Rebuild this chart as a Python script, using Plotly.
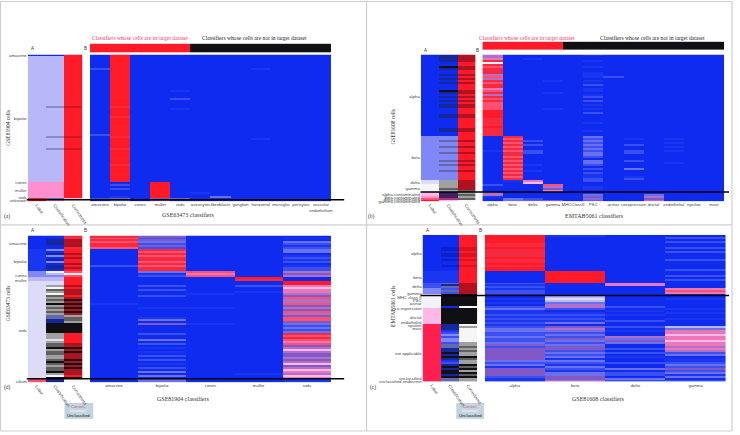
import plotly.graph_objects as go

W, H, N = 740, 435, 74

PALETTE = {
    "0": "#0f2bf0", "1": "#1a36f0", "2": "#3a50f0", "3": "#6a70ee", "4": "#8058c8",
    "5": "#b070c8", "6": "#e878b8", "7": "#ff5070", "8": "#f62a3e", "9": "#ff1a28",
    "w": "#f6f6f6", "k": "#101014", "g": "#a0a0a0", "h": "#606060", "s": "#b01222",
    "d": "#14289c", "a": "#0a20c8", "l": "#dcdcf8", "p": "#b8b8f8", "m": "#ff90d0",
    "n": "#8088f8", "r": "#ff2050", "q": "#ffb8e8", "v": "#f4f0fc", "x": "#6468ac",
    "y": "#402060", "u": "#b03080", "e": "#d8141f", "f": "#8a8acc", "t": "#5a4fa0",
}
KEYS = list(PALETTE)


def code(s, n=N):
    s = s.replace(" ", "")
    return [KEYS.index(c) for c in s.ljust(n, "0")[:n]]


# ---- Panel (a): GSE81904 cells / GSE63473 classifiers
a_cols = ["Label", "Classification", "Correctness"]
a_label = "0" + "p" * 63 + "m" * 8 + "99"
a_class = "0ppppppppp pppppppppp ppppppfppp pppppppppp pfpppppfpp pppppppppp ppppmmmmmm mmxm"
a_corr = "9999999999 9999999999 999999e999 9999999999 9e99999e99 9999999999 9999999999 99qw"
a_classifiers = ["amacrine", "bipolar", "cones", "muller", "rods", "astrocytes", "fibroblasts",
                 "ganglion", "horizontal", "microglia", "pericytes", "vascular<br>endothelium"]
a_top = "99999kkkkkkk"
a_amacrine = "0000000200 0000000000 0000000000 0000000000 2000000000 0000000000 0000000000 0020"
a_bipolar = "9999999999 9999999999 9999998999 9899999999 9899999899 9999989999 9999020200 0143"
a_cones = ""
a_muller = "0000000000 0000000000 0000000000 0000000000 0000000000 0000000000 0000999999 9944"
a_rods = "0000000000 0000000010 0020000100 0000000000 0000000000 0000000000 0000000000 0040"
a_astro = "0000000000 0000000000 0000000000 0000000000 0000000000 0000000000 0000000001"
a_fibro = "0000000000 0000000000 0000000000 0000000000 0000000000 0000000000 0000000000 0300"
a_ganglion = ""
a_horizontal = "0000000100 0000000000 0000000000 0000000000 0010000000"
a_micro = ""
a_peri = ""
a_vasc = ""
a_ticks = ["amacrine", "bipolar", "cones", "muller", "rods", "unknown"]
a_tickrows = [0, 32, 64, 68, 71.5, 73]

# ---- Panel (b): GSE81608 cells / EMTAB5061 classifiers
b_classifiers = ["alpha", "beta", "delta", "gamma", "MHCClassII", "PSC", "acinar", "coexpression",
                 "ductal", "endothelial", "epsilon", "mast"]
b_top = "9999kkkkkkkk"
b_label = "0" * 41 + "n" * 22 + "ll" + "wwww" + "qqm79"
b_class = "dddd00kd00 d0d0d000kd 0d0d0dd000 dd00000dd0 0 nnxnnxnnx nnnxnxnnxn nnn gg gghg yyyuq"
b_corr = "ssss99ss99 s9s9s999ss 9s9s9ss999 ss99999ss9 9 99s99s99s 999s9s99s9 999 ss sssh ghghw"
b_alpha = "5568w87888 5758788678 5878777799 9988889888 8000000010 0000000000 0000020005 5100"
b_beta = "0000000000 0000000000 0000000000 0000000000 0878787878 8787878787 8781000000 0033"
b_delta = "0010000000 0000000000 0000000000 0000000000 0002020022 0000010010 0006q00000 0024"
b_gamma = "0000000000 0001000001 0000000100 0000000000 0000000000 0000000000 0000075460 0004"
b_mhc = ""
b_psc = "1001001001 1101020110 1202010102 0000100010 0323232323 3203320202 1122001101 3434"
b_acinar = "0000000000 0200000000"
b_coexp = "0000000000 0000000000 0000000000 0000000000 0010020022 0002000300 0120000000"
b_ductal = "0000000000 0000000000 0000000000 0000000000 0000000000 0000000000 0000000000 3545"
b_endo = "0000000000 0000000000 0000000000 0000000000 0010101010 0000100000"
b_epsilon = ""
b_mast = ""
b_ticks = ["alpha", "beta", "delta", "gamma", "alpha.contaminated", "beta.contaminated",
           "delta.contaminated", "gamma.contaminated"]
b_tickrows = [20.5, 51.5, 64, 67, 70.2, 71.6, 72.8, 73.5]

# ---- Panel (d): GSE63473 cells / GSE81904 classifiers
d_classifiers = ["amacrine", "bipolar", "cones", "muller", "rods"]
d_label = "0" * 7 + "1" * 11 + "nnn" + "pp" + "l" * 49 + "77"
d_class = "00ddd00 n0dn0dn0dd0 wpn pp ll gwhgwhghgk ghghgxxddk kkkkggglgh hkghhgghkh ghhkgwk dd"
d_corr = "88ssss8 99s9s99s9s9 7w7 99 99 s9sss9sksk sksksghhgk kkkk99999s sksksssksk sksss9k ww"
d_amacrine = "8787887 0000000020 0 000000000 0000000100 0000000000 0000000000 0000000000 0000000000 0000000000 0043"
d_bipolar = ("4243242 87878878788 312 00 002020020 0000100001 3040000200 3020101020 2010203030 3300200000 34")
d_cones = "0000000 00000000000 767 00 000000100 0000100000 0010000000 0000000000 0000000000 0001000000 00"
d_muller = "0000000 00000000000 000 98 002001000 0000000000 0000000000 0000000000 0000000100 0000000001 23"
d_rods = "0103212 33012120122 545 00 996q665475 5745475477 4323238787 6745q54454 5q45q65q61 1"
d_ticks = ["amacrine", "bipolar", "cones", "muller", "rods", "cilium"]
d_tickrows = [3.5, 12.5, 19.5, 22, 47.5, 73]

# ---- Panel (c): EMTAB5061 cells / GSE81608 classifiers
c_classifiers = ["alpha", "beta", "delta", "gamma"]
c_label = "0" * 18 + "1" * 6 + "222" + "nnn" + "v" * 7 + "q" * 8 + "r" * 29
c_class = "000000aa0a a0a00a0011 1111xdx2x2 kkkkkk0kkk kkkkkddd12 n2nn2xxddk dkd12dkdkk dkxx"
c_corr = "999999ee9e e9e99e9999 9999ssssss kkkkkkwkkk kkkkkwgwww wwwwgghghg gkhggkhkgk hkgg"
c_alpha = "9999889888 8988989900 0000212122 1010102311 2121212332 2322342444 4443231444 4211"
c_beta = "1000000000 0000000099 9999000000 0plp355201 2121304532 3243234423 2313213213 3445"
c_delta = "0000000000 0000000000 0000660000 0000002010 1002002010 0534300202 0100200302 2032"
c_gamma = "0202002020 0020000200 2020000676 0010000101 001000p366 q66q665652 3011232423 1302"
c_ticks = ["alpha", "beta", "delta", "gamma", "MHC class II", "PSC", "acinar", "co-expression", "ductal",
           "endothelial", "epsilon", "mast", "not applicable", "unclassified", "unclassified endocrine"]
c_tickrows = [9, 21, 25.5, 29, 31, 32.6, 34.3, 36.5, 41, 43.6, 45.2, 46.8, 59.3, 72, 73.5]

panels = [
    dict(a=[a_label, a_class, a_corr], names=a_classifiers, top=a_top,
         b=[a_amacrine, a_bipolar, a_cones, a_muller, a_rods, a_astro, a_fibro, a_ganglion,
            a_horizontal, a_micro, a_peri, a_vasc],
         ticks=a_ticks, rows=a_tickrows,
         ax=(28, 83), bx=(90.7, 333.7), y=(54, 202), bar=(43, 52), line=(27, 347, 200.5),
         ytitle="GSE81904 cells", yt=(8, 128), xtitle="GSE63473 classifiers", xt=(190, 216),
         letter="(a)", lt=(7, 217), ab=48, heads=(141, 37, 257, 37)),
    dict(a=[b_label, b_class, b_corr], names=b_classifiers, top=b_top,
         b=[b_alpha, b_beta, b_delta, b_gamma, b_mhc, b_psc, b_acinar, b_coexp, b_ductal, b_endo,
            b_epsilon, b_mast],
         ticks=b_ticks, rows=b_tickrows,
         ax=(424.3, 479.3), bx=(486.3, 730), y=(54, 202), bar=(41, 49.5), line=(424, 735, 192.7),
         ytitle="GSE81608 cells", yt=(396, 127), xtitle="EMTAB5061 classifiers", xt=(599, 217),
         letter="(b)", lt=(375, 217), ab=50, heads=(531, 37, 658, 37)),
    dict(a=[d_label, d_class, d_corr], names=d_classifiers, top=None,
         b=[d_amacrine, d_bipolar, d_cones, d_muller, d_rods],
         ticks=d_ticks, rows=d_tickrows,
         ax=(28, 83), bx=(90.7, 333.7), y=(236.7, 384.7), bar=None, line=(27, 347, 381.3),
         ytitle="GSE63473 cells", yt=(8, 305), xtitle="GSE81904 classifiers", xt=(184, 402),
         letter="(d)", lt=(8, 390), ab=232, heads=None, legend=(65, 94)),
    dict(a=[c_label, c_class, c_corr], names=c_classifiers, top=None,
         b=[c_alpha, c_beta, c_delta, c_gamma],
         ticks=c_ticks, rows=c_tickrows,
         ax=(426, 481), bx=(488.7, 731.7), y=(236, 384), bar=None, line=(424, 735, 297.3),
         ytitle="EMTAB5061 cells", yt=(396, 308), xtitle="GSE81608 classifiers", xt=(603, 402),
         letter="(c)", lt=(376, 390), ab=232, heads=None, legend=(460, 488)),
]

fig = go.Figure()
COLORSCALE = [[i / (len(KEYS) - 1), PALETTE[k]] for i, k in enumerate(KEYS)]
SANS = "Liberation Sans"
SERIF = "Liberation Serif"
TICK = 4.3
axis_no = [0]
layout = {}


def px_x(v):
    return v / W


def px_y(v):
    return 1 - v / H


def add_map(z, xs, ys, xdom, ydom, ticks=None, rows=None, xangle=0, showx=True):
    axis_no[0] += 1
    i = axis_no[0]
    fig.add_trace(go.Heatmap(z=z, x=xs, y=ys, colorscale=COLORSCALE, zmin=0, zmax=len(KEYS) - 1,
                             showscale=False, hoverinfo="skip", xaxis=f"x{i}", yaxis=f"y{i}"))
    layout[f"xaxis{i}"] = dict(domain=[px_x(xdom[0]), px_x(xdom[1])], anchor=f"y{i}", type="category",
                               showgrid=False, zeroline=False, ticks="", tickangle=xangle,
                               showticklabels=showx, tickfont=dict(size=TICK, family=SANS, color="#444"),
                               tickmode="array", tickvals=xs, ticktext=xs)
    layout[f"yaxis{i}"] = dict(domain=[px_y(ydom[1]), px_y(ydom[0])], anchor=f"x{i}",
                               showgrid=False, zeroline=False, autorange="reversed",
                               showticklabels=ticks is not None, ticks="",
                               tickmode="array", tickvals=rows or [], ticktext=ticks or [],
                               tickfont=dict(size=TICK, family=SANS, color="#444"))


def note(x, y, text, size=5.5, color="#333", family=SANS, angle=0, anchor="center"):
    return dict(x=px_x(x), y=px_y(y), xref="paper", yref="paper", text=text, showarrow=False,
                font=dict(size=size, color=color, family=family), textangle=angle,
                xanchor=anchor, yanchor="middle")


shapes = []
notes = []
rows_idx = list(range(N))
for p in panels:
    a_z = [list(r) for r in zip(*[code(c) for c in p["a"]])]
    add_map(a_z, a_cols, rows_idx, p["ax"], p["y"], p["ticks"], p["rows"], xangle=55)
    b_z = [list(r) for r in zip(*[code(c) for c in p["b"]])]
    names = p["names"]
    add_map(b_z, names, rows_idx, p["bx"], p["y"])
    if p["top"]:
        add_map([code(p["top"], len(names))], names, [0], p["bx"], p["bar"], showx=False)
    x0, x1, yl = p["line"]
    shapes.append(dict(type="line", xref="paper", yref="paper", x0=px_x(x0), x1=px_x(x1),
                       y0=px_y(yl), y1=px_y(yl), line=dict(color="#000", width=1.5)))
    notes.append(note(p["yt"][0], p["yt"][1], p["ytitle"], size=5.5, family=SERIF, angle=-90))
    notes.append(note(p["xt"][0], p["xt"][1], p["xtitle"], size=6, family=SERIF))
    notes.append(note(p["lt"][0], p["lt"][1], p["letter"], size=5.5, family=SERIF))
    notes.append(note(p["ax"][0] + 5, p["ab"], "A", size=4.5, family=SANS))
    notes.append(note(p["bx"][0] - 4.5, p["ab"], "B", size=4.5, family=SANS))
    if p["heads"]:
        h = p["heads"]
        notes.append(note(h[0], h[1], "Classifiers whose cells are in target dataset", size=5.6,
                          color="#f04060", family=SERIF))
        notes.append(note(h[2], h[3], "Classifiers whose cells are not in target dataset", size=5.6,
                          color="#222", family=SERIF))
    if "legend" in p:
        lx0, lx1 = p["legend"]
        shapes.append(dict(type="rect", xref="paper", yref="paper", x0=px_x(lx0), x1=px_x(lx1),
                           y0=px_y(421.7), y1=px_y(405.7), line=dict(width=0), fillcolor="#c2d4e0",
                           layer="below"))
        mid = (lx0 + lx1) / 2
        notes.append(note(mid, 409.3, "Correct", size=4.2, color="#e05060"))
        notes.append(note(mid, 413.8, "Incorrect", size=4.2, color="#ffffff"))
        notes.append(note(mid, 418.3, "Unclassified", size=4.2, color="#111"))

# Frame of the four panels
for x0, y0, x1, y1 in [(0.5, 0.5, 738, 0.5), (0.5, 434, 738, 434), (0.5, 0.5, 0.5, 434),
                       (738, 0.5, 738, 434), (369.5, 0.5, 369.5, 434), (0.5, 226, 738, 226)]:
    shapes.append(dict(type="line", xref="paper", yref="paper", x0=px_x(x0), x1=px_x(x1),
                       y0=px_y(y0), y1=px_y(y1), line=dict(color="#cfcfcf", width=1.2), layer="below"))

fig.update_layout(width=W, height=H, margin=dict(l=0, r=0, t=0, b=0), autosize=False,
                  paper_bgcolor="white", plot_bgcolor="white", showlegend=False,
                  shapes=shapes, annotations=notes, **layout)
fig.write_html("out.html", config={"displayModeBar": False},
               post_script="document.body.style.margin='0';document.body.style.overflow='hidden';")
